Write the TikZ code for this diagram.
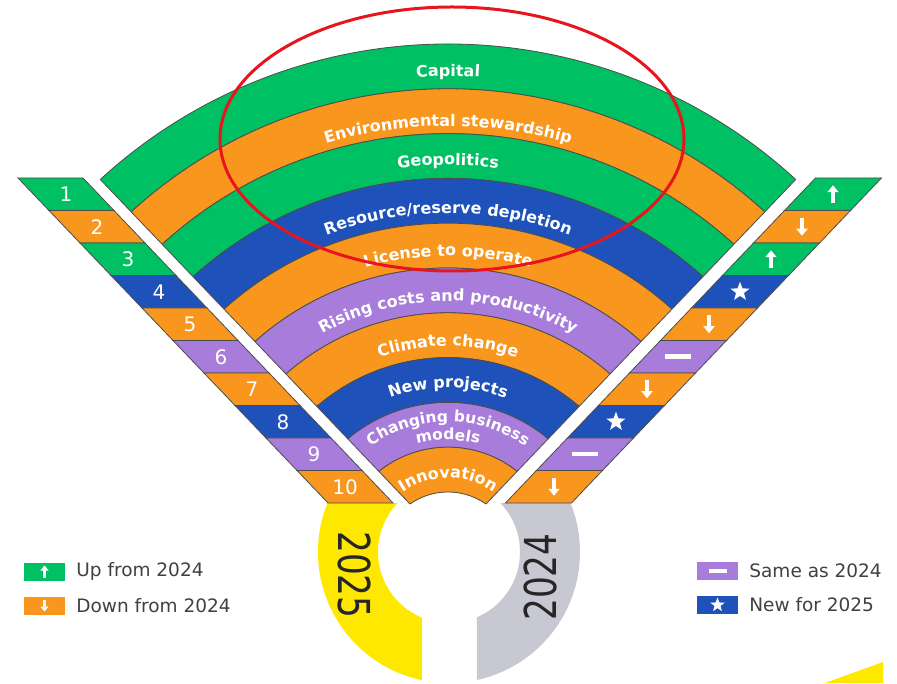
\documentclass[tikz,border=0pt]{standalone}
\usepackage{fontspec}
\setmainfont{DejaVu Sans}
\usetikzlibrary{arrows.meta,shapes.geometric,decorations.text,positioning}

\definecolor{riskgreen}{RGB}{0,192,100}
\definecolor{riskorange}{RGB}{249,150,30}
\definecolor{riskblue}{RGB}{30,82,186}
\definecolor{riskpurple}{RGB}{168,124,218}
\definecolor{yearyellow}{RGB}{255,232,0}
\definecolor{yeargray}{RGB}{200,200,210}
\definecolor{notered}{RGB}{232,20,30}

\newcommand{\bandfont}{\bfseries\fontsize{16}{16}\selectfont}
\newcommand{\smallbandfont}{\bfseries\fontsize{15.5}{15.5}\selectfont}

\tikzset{
  outline/.style={draw=black!70, line width=.8pt},
  bandtext/.style={decorate, decoration={text along path, text align=center, text color=white, text={#1}}},
  rowno/.style={text=white, font=\fontsize{20}{20}\selectfont, inner sep=0},
  uparrow/.style={white, line width=3.5pt, -{Triangle[width=11pt,length=7pt]}},
  legarrow/.style={white, line width=2.5pt, -{Triangle[width=8pt,length=5pt]}},
  newstar/.style={star, star points=5, star point ratio=2.4, fill=white, minimum size=20pt, inner sep=0},
  samebar/.style={white, line width=4.5pt},
  legbox/.style={minimum width=41pt, minimum height=18pt, inner sep=0},
  legtext/.style={text=black!75, font=\fontsize{18.5}{18.5}\selectfont, inner sep=0, anchor=west},
  yeartext/.style={text=black!85, font=\fontsize{44}{44}\selectfont, inner sep=0}
}

\begin{document}
\begin{tikzpicture}[x=1pt,y=1pt]
\useasboundingbox (-448,-125) rectangle (449,558);

%years
\begin{scope}
\clip (-200,-200) rectangle (-26,55);
\fill[yearyellow, even odd rule] (1,6) circle[radius=131] (1,6) circle[radius=71];
\end{scope}
\begin{scope}
\clip (29,-200) rectangle (200,55);
\fill[yeargray, even odd rule] (1,6) circle[radius=131] (1,6) circle[radius=71];
\end{scope}
\node[yeartext, rotate=-90] (y2025) at (-93,-17) {\scalebox{.78}[1]{2025}};
\node[yeartext, rotate=90] (y2024) at (92,-19) {\scalebox{.78}[1]{2024}};
\fill[yearyellow] (377,-125) -- (435,-104) -- (435,-125) -- cycle;

%bands
\begin{scope}
\clip (0,14.2) -- (-440,475.3) -- (-440,560) -- (440,560) -- (440,475.3) -- cycle;
\foreach \i/\c in {1/riskgreen, 2/riskorange, 3/riskgreen, 4/riskblue, 5/riskorange,
                   6/riskpurple, 7/riskorange, 8/riskblue, 9/riskpurple, 10/riskorange}{
    \pgfmathsetmacro{\ro}{514-44.8*(\i-1)}
    \pgfmathsetmacro{\ri}{\ro-44.8}
    \path[outline, fill=\c] (40:\ro) arc[start angle=40, end angle=140, radius=\ro]
        -- (140:\ri) arc[start angle=140, end angle=40, radius=\ri] -- cycle;
}
\end{scope}
\draw[outline] (-347.7,378.5) -- (-38,54);
\draw[outline] (347.7,378.5) -- (38,54);

%band labels
\path[bandtext={|\bandfont|Capital}] (133:482) arc[start angle=133, end angle=47, radius=482];
\path[bandtext={|\bandfont|Environmental stewardship}] (133:432) arc[start angle=133, end angle=47, radius=432];
\path[bandtext={|\bandfont|Geopolitics}] (133:393) arc[start angle=133, end angle=47, radius=393];
\path[bandtext={|\bandfont|Resource/reserve depletion}] (133:345) arc[start angle=133, end angle=47, radius=345];
\path[bandtext={|\bandfont|License to operate}] (133:302) arc[start angle=133, end angle=47, radius=302];
\path[bandtext={|\bandfont|Rising costs and productivity}] (133:257) arc[start angle=133, end angle=47, radius=257];
\path[bandtext={|\bandfont|Climate change}] (133:212) arc[start angle=133, end angle=47, radius=212];
\path[bandtext={|\bandfont|New projects}] (133:170) arc[start angle=133, end angle=47, radius=170];
\path[bandtext={|\smallbandfont|Changing business}] (140:136) arc[start angle=140, end angle=40, radius=136];
\path[bandtext={|\smallbandfont|models}] (133:118) arc[start angle=133, end angle=47, radius=118];
\path[bandtext={|\bandfont|Innovation}] (140:80) arc[start angle=140, end angle=40, radius=80];

%2025 ranks
\begin{scope}[xslant=-0.954]
\foreach \i/\c in {1/riskgreen, 2/riskorange, 3/riskgreen, 4/riskblue, 5/riskorange,
                   6/riskpurple, 7/riskorange, 8/riskblue, 9/riskpurple, 10/riskorange}{
    \path[outline, fill=\c] (-67.5,{380-32.5*(\i-1)}) rectangle (-2.5,{380-32.5*\i});
    \node[rowno] (no\i) at (-35,{380-32.5*(\i-.5)}) {\i};
}
\end{scope}

%change from 2024
\begin{scope}[xslant=0.954]
\foreach \i/\c in {1/riskgreen, 2/riskorange, 3/riskgreen, 4/riskblue, 5/riskorange,
                   6/riskpurple, 7/riskorange, 8/riskblue, 9/riskpurple, 10/riskorange}{
    \path[outline, fill=\c] (5,{380-32.5*(\i-1)}) rectangle (71,{380-32.5*\i});
    \coordinate (sym\i) at (38,{380-32.5*(\i-.5)});
}
\end{scope}
\foreach \i in {1,3} \draw[uparrow] ([yshift=-9pt]sym\i) -- ([yshift=9pt]sym\i);
\foreach \i in {2,5,7,10} \draw[uparrow] ([yshift=9pt]sym\i) -- ([yshift=-9pt]sym\i);
\foreach \i in {4,8} \node[newstar] (star\i) at (sym\i) {};
\foreach \i in {6,9} \draw[samebar] ([xshift=-13pt]sym\i) -- ([xshift=13pt]sym\i);

%legend
\node[legbox, fill=riskgreen] (legup) at (-403.5,-13.5) {};
\draw[legarrow] ([yshift=-6pt]legup.center) -- ([yshift=6pt]legup.center);
\node[legtext, right=11pt of legup] (legupt) {Up from 2024};
\node[legbox, fill=riskorange] (legdown) at (-403.5,-47.5) {};
\draw[legarrow] ([yshift=6pt]legdown.center) -- ([yshift=-6pt]legdown.center);
\node[legtext, right=11pt of legdown] (legdownt) {Down from 2024};
\node[legbox, fill=riskpurple] (legsame) at (269.5,-13) {};
\draw[white, line width=3.5pt] ([xshift=-9pt]legsame.center) -- ([xshift=9pt]legsame.center);
\node[legtext, right=11pt of legsame] (legsamet) {Same as 2024};
\node[legbox, fill=riskblue] (legnew) at (269.5,-47) {};
\node[newstar, minimum size=15pt] (legstar) at (legnew.center) {};
\node[legtext, right=11pt of legnew] (legnewt) {New for 2025};

%note
\draw[notered, line width=3pt] (4,419) ellipse[x radius=232, y radius=132];
\end{tikzpicture}
\end{document}
